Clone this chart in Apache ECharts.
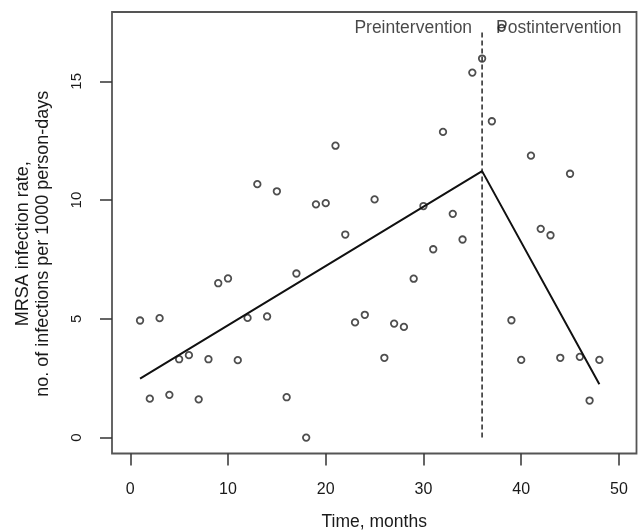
<!DOCTYPE html>
<html>
<head>
<meta charset="utf-8">
<script src="https://cdn.jsdelivr.net/npm/echarts@6/dist/echarts.min.js"></script>
<style>
html,body{margin:0;padding:0;background:#fff;}
#chart{width:639px;height:531px;}
</style>
</head>
<body>
<div id="chart"></div>
<script>
// ---- data ----
const months = [1,2,3,4,5,6,7,8,9,10,11,12,13,14,15,16,17,18,19,20,21,22,23,24,
                25,26,27,28,29,30,31,32,33,34,35,36,37,38,39,40,41,42,43,44,45,46,47,48];
const rates  = [4.93,1.64,5.03,1.80,3.30,3.47,1.61,3.30,6.50,6.70,3.26,5.04,
                10.67,5.10,10.37,1.70,6.91,0.00,9.82,9.87,12.29,8.55,4.85,5.17,
                10.03,3.36,4.80,4.66,6.69,9.75,7.93,12.87,9.42,8.34,15.37,15.96,
                13.32,17.25,4.94,3.27,11.87,8.79,8.52,3.36,11.11,3.40,1.56,3.27];
const fitMonths = [1, 36, 48];
const fitRates  = [2.48, 11.22, 2.25];
const interventionMonth = 36;
const dashedRange = [0, 17.1];
const labelRate = 17.25;
const xTicks = [0, 10, 20, 30, 40, 50];
const yTicks = [0, 5, 10, 15];

const points = months.map((m, i) => [m, rates[i]]);
const fitLine = fitMonths.map((m, i) => [m, fitRates[i]]);
const dashLine = dashedRange.map(v => [interventionMonth, v]);

const chart = echarts.init(document.getElementById('chart'), null, {renderer: 'canvas'});
const textColor = '#1a1a1a';
const font = 'Liberation Sans, Arial, Helvetica, sans-serif';

chart.setOption({
  backgroundColor: '#fff',
  animation: false,
  grid: {
    left: 112, top: 12, right: 2.5, bottom: 77.5,
    outerBoundsMode: 'none', containLabel: false,
    show: true, borderColor: '#555', borderWidth: 1.8, backgroundColor: 'transparent'
  },
  xAxis: {
    type: 'value', min: -1.87, max: 51.8,
    name: 'Time, months', nameLocation: 'middle', nameGap: 60,
    nameTextStyle: {color: textColor, fontSize: 17.5, fontFamily: font},
    axisLine: {show: false, onZero: false},
    splitLine: {show: false},
    axisTick: {show: true, inside: false, length: 12, customValues: xTicks, lineStyle: {color: '#333', width: 1.5}},
    axisLabel: {customValues: xTicks, margin: 28, color: textColor, fontSize: 16, fontFamily: font}
  },
  yAxis: {
    type: 'value', min: -0.67, max: 17.92,
    name: 'MRSA infection rate,\nno. of infections per 1000 person-days',
    nameLocation: 'middle', nameRotate: 90, nameGap: 59,
    nameTextStyle: {color: textColor, fontSize: 18, lineHeight: 20, fontFamily: font, padding: [0, 22, 0, 0]},
    axisLine: {show: false, onZero: false},
    splitLine: {show: false},
    axisTick: {show: true, inside: false, length: 12, customValues: yTicks, lineStyle: {color: '#333', width: 1.5}},
    axisLabel: {customValues: yTicks, rotate: 90, margin: 28, color: textColor, fontSize: 15, fontFamily: font}
  },
  series: [
    {
      type: 'line', data: dashLine, symbol: 'none', silent: true,
      lineStyle: {color: '#333', width: 1.6, type: [5, 3]}
    },
    {
      type: 'line', data: fitLine, symbol: 'none', silent: true,
      lineStyle: {color: '#111', width: 2}
    },
    {
      type: 'scatter', data: points, symbol: 'circle', symbolSize: 6.5,
      itemStyle: {color: '#fff', borderColor: '#222', borderWidth: 1.8}
    },
    {
      type: 'scatter', symbolSize: 0, silent: true,
      data: [
        {value: [interventionMonth, labelRate], label: {show: true, position: 'left', distance: 10, formatter: 'Preintervention'}},
        {value: [interventionMonth, labelRate], label: {show: true, position: 'right', distance: 14, formatter: 'Postintervention'}}
      ],
      label: {color: textColor, fontSize: 17.5, fontFamily: font}
    }
  ]
});
</script>
</body>
</html>
